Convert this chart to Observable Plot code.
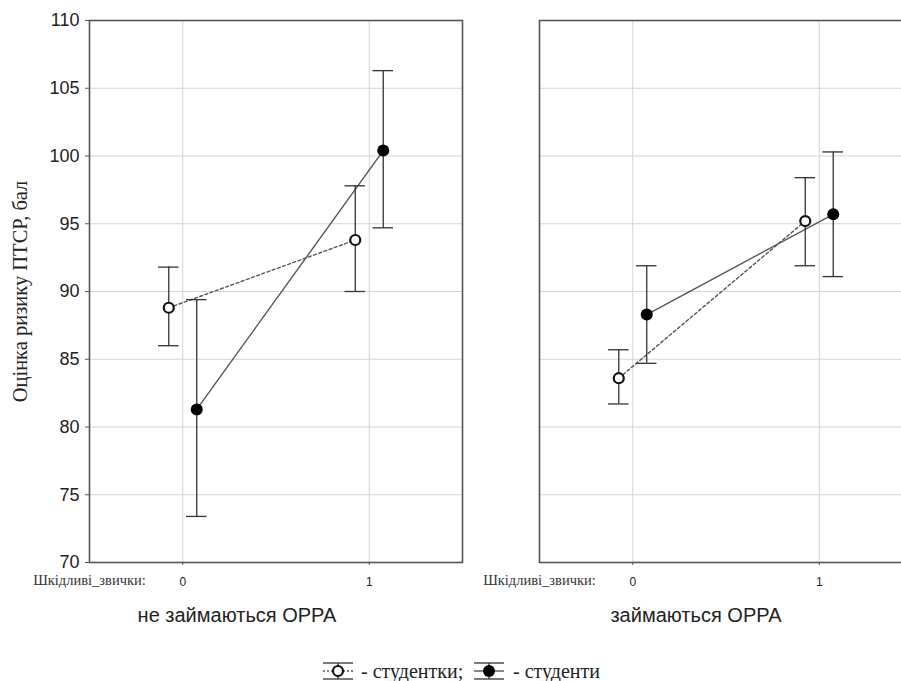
<!DOCTYPE html>
<html>
<head>
<meta charset="utf-8">
<script src="https://cdn.jsdelivr.net/npm/d3@7"></script>
<script src="https://cdn.jsdelivr.net/npm/@observablehq/plot@0.6"></script>
<style>
  html, body { margin: 0; padding: 0; background: #fff; overflow: hidden; width: 901px; height: 681px; }
  #wrap { position: relative; width: 901px; height: 681px; overflow: hidden; }
  #chart { position: absolute; left: 0; top: 0; width: 915px; }
  #chart svg { max-width: none !important; }
  .leg { position: absolute; font-family: "Liberation Serif", "Times New Roman", serif; font-size: 20px; color: #222; white-space: nowrap; line-height: 22px; }
</style>
</head>
<body>
<div id="wrap"><div id="chart"></div></div>
<script>
// ---- data ----
const panels = ["не займаються ОРРА", "займаються ОРРА"];
const habits = [0, 1];
const groups = ["студентки", "студенти"];
const yTicks = [70, 75, 80, 85, 90, 95, 100, 105, 110];
const xTicks = [0, 1];
const yLabel = "Оцінка ризику ПТСР, бал";
const habitLabel = "Шкідливі_звички:";

// per panel: [habit 0, habit 1]
const studentkyMean = [[88.8, 93.8], [83.6, 95.2]];
const studentkyLow  = [[86.0, 90.0], [81.7, 91.9]];
const studentkyHigh = [[91.8, 97.8], [85.7, 98.4]];
const studentyMean  = [[81.3, 100.4], [88.3, 95.7]];
const studentyLow   = [[73.4, 94.7], [84.7, 91.1]];
const studentyHigh  = [[89.4, 106.3], [91.9, 100.3]];

const dodge = 0.075;
const rows = [];
panels.forEach((p, pi) => {
  habits.forEach((h, hi) => {
    rows.push({panel: p, group: groups[0], xd: h - dodge, mean: studentkyMean[pi][hi], lo: studentkyLow[pi][hi], hi: studentkyHigh[pi][hi]});
    rows.push({panel: p, group: groups[1], xd: h + dodge, mean: studentyMean[pi][hi], lo: studentyLow[pi][hi], hi: studentyHigh[pi][hi]});
  });
});
const openRows = rows.filter(d => d.group === groups[0]);
const fillRows = rows.filter(d => d.group === groups[1]);
const capHalf = 0.055;
const serif = "'Liberation Serif', 'Times New Roman', serif";

const chart = Plot.plot({
  width: 915,
  height: 645,
  marginTop: 20,
  marginLeft: 88,
  marginRight: 2,
  marginBottom: 83,
  style: {fontFamily: "'Liberation Sans', Arial, sans-serif", color: "#222", background: "white", overflow: "visible", maxWidth: "none"},
  fx: {domain: panels, paddingInner: 0.1707, paddingOuter: 0, axis: null, label: null},
  x: {domain: [-0.5, 1.5], axis: null, label: null},
  y: {domain: [70, 110], axis: null, label: null},
  marks: [
    Plot.gridY({ticks: yTicks, stroke: "#d4d4d4", strokeOpacity: 1, strokeWidth: 1}),
    Plot.gridX({ticks: xTicks, stroke: "#d4d4d4", strokeOpacity: 1, strokeWidth: 1}),
    Plot.frame({stroke: "#555", strokeWidth: 1.6}),
    Plot.axisY({ticks: yTicks, tickSize: 4, tickPadding: 6, fontSize: 18, label: null, stroke: "#555"}),
    Plot.axisX({ticks: xTicks, tickSize: 3, tickPadding: 12, fontSize: 12, label: null, stroke: "#555", tickFormat: d => String(d)}),
    Plot.line(openRows, {fx: "panel", x: "xd", y: "mean", stroke: "#555", strokeWidth: 1.4, strokeDasharray: "3,2.5"}),
    Plot.line(fillRows, {fx: "panel", x: "xd", y: "mean", stroke: "#555", strokeWidth: 1.4}),
    Plot.ruleX(rows, {fx: "panel", x: "xd", y1: "lo", y2: "hi", stroke: "#333", strokeWidth: 1.3}),
    Plot.ruleY(rows, {fx: "panel", y: "hi", x1: d => d.xd - capHalf, x2: d => d.xd + capHalf, stroke: "#333", strokeWidth: 1.3}),
    Plot.ruleY(rows, {fx: "panel", y: "lo", x1: d => d.xd - capHalf, x2: d => d.xd + capHalf, stroke: "#333", strokeWidth: 1.3}),
    Plot.dot(openRows, {fx: "panel", x: "xd", y: "mean", r: 5, fill: "white", stroke: "#111", strokeWidth: 2.2}),
    Plot.dot(fillRows, {fx: "panel", x: "xd", y: "mean", r: 6, fill: "#000"}),
    Plot.text([panels[0]], {fx: d => d, frameAnchor: "left", rotate: -90, dx: -69, textAnchor: "middle", text: () => yLabel,
      fontFamily: serif, fontSize: 20.5, fill: "#222"}),
    Plot.text(panels, {fx: d => d, frameAnchor: "bottom-left", dy: 22, text: () => habitLabel, textAnchor: "middle",
      fontFamily: serif, fontSize: 14.5, fill: "#333"}),
    Plot.text([panels[0]], {fx: d => d, frameAnchor: "bottom", dy: 59, dx: -39, text: d => d, fontSize: 20, fill: "#222"}),
    Plot.text([panels[1]], {fx: d => d, frameAnchor: "bottom", dy: 59, dx: -30, text: d => d, fontSize: 20, fill: "#222"})
  ]
});
document.getElementById("chart").appendChild(chart);

// legend
const wrap = document.getElementById("wrap");
function sym(left, filled) {
  const s = document.createElementNS("http://www.w3.org/2000/svg", "svg");
  s.setAttribute("width", 34); s.setAttribute("height", 20);
  s.style.position = "absolute"; s.style.left = left + "px"; s.style.top = "661px";
  s.innerHTML =
    `<line x1="2" x2="32" y1="2" y2="2" stroke="#333" stroke-width="1.3"/>` +
    `<line x1="2" x2="32" y1="18" y2="18" stroke="#333" stroke-width="1.3"/>` +
    `<line x1="17" x2="17" y1="2" y2="18" stroke="#333" stroke-width="1.3"/>` +
    `<line x1="2" x2="32" y1="10" y2="10" stroke="#555" stroke-width="1.4" ${filled ? "" : 'stroke-dasharray="2,2"'}/>` +
    (filled ? `<circle cx="17" cy="10" r="6" fill="#000"/>` : `<circle cx="17" cy="10" r="5" fill="white" stroke="#111" stroke-width="2.2"/>`);
  wrap.appendChild(s);
}
sym(321, false);
sym(472, true);
function lab(left, txt) {
  const d = document.createElement("div");
  d.className = "leg"; d.style.left = left + "px"; d.style.top = "660px"; d.textContent = txt;
  wrap.appendChild(d);
}
lab(361, "- " + groups[0] + ";");
lab(513, "- " + groups[1]);
</script>
</body>
</html>
